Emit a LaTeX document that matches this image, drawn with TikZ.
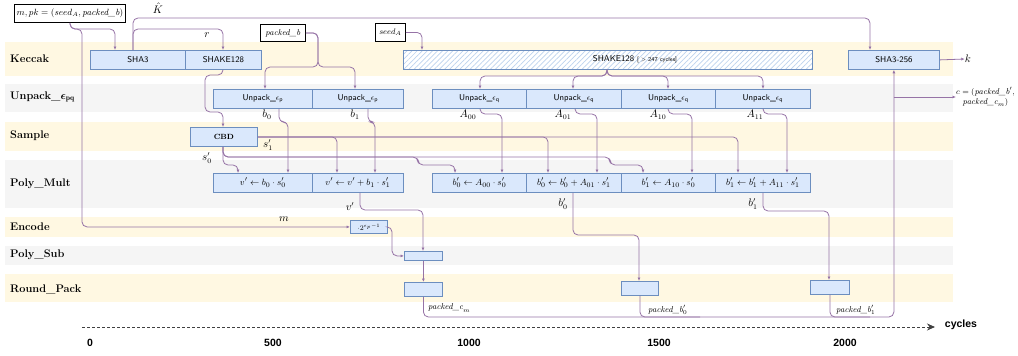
\documentclass[tikz,border=0pt]{standalone}
\usepackage{amsmath}
\usepackage{fontspec}
\newfontfamily\axisfont{Liberation Sans}
\usetikzlibrary{arrows.meta,patterns.meta}
\definecolor{laneY}{HTML}{FFF8E2}
\definecolor{laneG}{HTML}{F5F5F5}
\definecolor{boxF}{HTML}{DAE8FC}
\definecolor{boxD}{HTML}{6C8EBF}
\definecolor{wirec}{HTML}{9673A6}
\definecolor{hatchc}{HTML}{BDD3EE}
\newcommand{\us}{\textunderscore}
\begin{document}
\begin{tikzpicture}[x=1pt,y=-1pt,
  sz/.style 2 args={minimum width=#1pt, minimum height=#2pt},
  lanelabel/.style={anchor=west, inner sep=0, font=\fontsize{11}{13}\selectfont\bfseries},
  blk/.style={draw=boxD, fill=boxF, line width=0.8pt, inner sep=0, anchor=north west,
              font=\sffamily\fontsize{8.5}{10}\selectfont},
  opbox/.style={blk, font=\fontsize{9.5}{11}\selectfont},
  inbox/.style={draw=black, fill=white, line width=0.8pt, inner sep=0, anchor=north west,
                font=\fontsize{9}{10}\selectfont},
  conn/.style={draw=wirec, line width=0.8pt, rounded corners=5pt, -{Latex[length=3.5pt,width=3pt]}},
  wire/.style={draw=wirec, line width=0.8pt, rounded corners=5pt},
  sig/.style={inner sep=0, font=\fontsize{10.5}{12}\selectfont},
  outlbl/.style={inner sep=0, font=\fontsize{8.5}{10}\selectfont},
  tick/.style={inner sep=0, font=\axisfont\bfseries\fontsize{10.5}{12}\selectfont},
]
\useasboundingbox (0,0) rectangle (1018,356);

% swim lanes
\fill[laneY] (5,42)  rectangle (953,76);
\fill[laneG] (5,84)  rectangle (953,112);
\fill[laneY] (5,122) rectangle (953,151);
\fill[laneG] (5,160) rectangle (953,208);
\fill[laneY] (5,217) rectangle (953,237);
\fill[laneG] (5,246) rectangle (953,265);
\fill[laneY] (5,274) rectangle (953,302);

\node[lanelabel] (lkec) at (10,59)  {Keccak};
\node[lanelabel] (lunp) at (10,97)  {Unpack\us$\boldsymbol{\epsilon}_{\mathbf{pq}}$};
\node[lanelabel] (lsam) at (10,136) {Sample};
\node[lanelabel] (lmul) at (10,184) {Poly\us Mult};
\node[lanelabel] (lenc) at (10,227) {Encode};
\node[lanelabel] (lsub) at (10,255) {Poly\us Sub};
\node[lanelabel] (lrp)  at (10,289) {Round\us Pack};

% inputs
\node[inbox, sz={111}{18}] (inp) at (14,4) {$m, pk = (seed_A, \textit{packed\us b})$};
\node[inbox, sz={45}{17}, font=\fontsize{8.5}{10}\selectfont] (pb) at (260,24) {$\textit{packed\us b}$};
\node[inbox, sz={30}{18}, font=\fontsize{8.5}{10}\selectfont] (sa) at (375,23) {$seed_A$};

% Keccak
\node[blk, sz={95}{19}] (sha3) at (90,50) {SHA3};
\node[blk, sz={76}{19}] (shake) at (185,50) {SHAKE128};
\node[blk, sz={409}{19}, fill=none, draw=boxD, line width=1.3pt,
      preaction={fill=white},
      pattern={Lines[angle=45,distance=3.6pt,line width=0.7pt]}, pattern color=hatchc] (shakeA) at (403,50) {};
\node[inner sep=0, font=\sffamily\fontsize{8.5}{10}\selectfont] (shakeAtxt) at (635,59)
  {SHAKE128 {\fontsize{6}{7}\selectfont[ > 247 cycles]}};
\node[blk, sz={91}{19}] (sha256) at (848,50) {SHA3-256};

% Unpack
\node[blk, sz={99}{19}] (up1) at (213,89) {Unpack\us$\epsilon_{\mathsf{p}}$};
\node[blk, sz={91}{19}] (up2) at (312,89) {Unpack\us$\epsilon_{\mathsf{p}}$};
\node[blk, sz={94}{19}] (uq1) at (432,89) {Unpack\us$\epsilon_{\mathsf{q}}$};
\node[blk, sz={95}{19}] (uq2) at (526,89) {Unpack\us$\epsilon_{\mathsf{q}}$};
\node[blk, sz={94}{19}] (uq3) at (621,89) {Unpack\us$\epsilon_{\mathsf{q}}$};
\node[blk, sz={95}{19}] (uq4) at (715,89) {Unpack\us$\epsilon_{\mathsf{q}}$};

% Sample
\node[blk, sz={67}{19}, font=\rmfamily\bfseries\fontsize{7.5}{9}\selectfont] (cbd) at (190,127) {CBD};

% Poly_Mult
\node[opbox, sz={99}{19}] (pm1) at (213,173) {$v' \leftarrow b_0 \cdot s'_0$};
\node[opbox, sz={91}{19}] (pm2) at (312,173) {$v' \leftarrow v' + b_1 \cdot s'_1$};
\node[opbox, sz={94}{19}] (pm3) at (432,173) {$b'_0 \leftarrow A_{00} \cdot s'_0$};
\node[opbox, sz={95}{19}] (pm4) at (526,173) {$b'_0 \leftarrow b'_0 + A_{01} \cdot s'_1$};
\node[opbox, sz={94}{19}] (pm5) at (621,173) {$b'_1 \leftarrow A_{10} \cdot s'_0$};
\node[opbox, sz={95}{19}] (pm6) at (715,173) {$b'_1 \leftarrow b'_1 + A_{11} \cdot s'_1$};

% Encode, Poly_Sub, Round_Pack
\node[opbox, sz={37}{13}, font=\fontsize{7.5}{9}\selectfont] (enc) at (350,220) {$\cdot 2^{\epsilon_p-1}$};
\node[blk, sz={38}{9}]  (sub) at (404,251) {};
\node[blk, sz={38}{14}] (rp1) at (404,282) {};
\node[blk, sz={37}{14}] (rp2) at (621,281) {};
\node[blk, sz={39}{14}] (rp3) at (810,280) {};

% output labels
\node[sig] (kout) at (968,59) {$k$};
\node[outlbl, align=center, anchor=west] (cout) at (956,97)
  {$c = (\textit{packed\us b}'$,\\ $\textit{packed\us c}_m)$};
\coordinate (bus) at (0,317);
\coordinate (cj) at (893.5,97);

% Keccak wiring
\draw[conn] (70,0 |- inp.south) |- (115,29) -- (115,0 |- sha3.north);
\draw[conn] (70,0 |- inp.south) |- (82,29) |- (enc.west);
\draw[conn] (133,0 |- sha3.north) |- (870,18) -- (870,0 |- sha256.north);
\draw[conn] (133,0 |- sha3.north) |- (223,29) -- (223,0 |- shake.north);
\draw[conn] (223,0 |- shake.south) |- (205,75) |- (223,112) -- (223,0 |- cbd.north);
\draw[conn] (pb.east) -| (318,67) -| (265,0 |- up1.north);
\draw[conn] (pb.east) -| (318,67) -| (355,0 |- up2.north);
\draw[conn] (sa.east) -| (422,0 |- shakeA.north);
\draw[conn] (607,0 |- shakeA.south) |- (480,76) -- (480,0 |- uq1.north);
\draw[conn] (607,0 |- shakeA.south) |- (573,76) -- (573,0 |- uq2.north);
\draw[conn] (607,0 |- shakeA.south) |- (668,76) -- (668,0 |- uq3.north);
\draw[conn] (607,0 |- shakeA.south) |- (763,76) -- (763,0 |- uq4.north);

% unpacked operands
\draw[conn] (279,0 |- up1.south) |- (288,122) -- (288,0 |- pm1.north);
\draw[conn] (368,0 |- up2.south) |- (375,122) -- (375,0 |- pm2.north);
\draw[conn] (480,0 |- uq1.south) |- (502,114) -- (502,0 |- pm3.north);
\draw[conn] (575,0 |- uq2.south) |- (597,114) -- (597,0 |- pm4.north);
\draw[conn] (668,0 |- uq3.south) |- (692,114) -- (692,0 |- pm5.north);
\draw[conn] (763,0 |- uq4.south) |- (787,114) -- (787,0 |- pm6.north);

% secrets from CBD
\draw[conn] (cbd.east) -| (337,0 |- pm2.north);
\draw[conn] (cbd.east) -| (548,0 |- pm4.north);
\draw[conn] (cbd.east) -| (738,0 |- pm6.north);
\draw[conn] (223,0 |- cbd.south) |- (238,165) -- (238,0 |- pm1.north);
\draw[conn] (223,0 |- cbd.south) |- (418,157) |- (455,165) -- (455,0 |- pm3.north);
\draw[conn] (223,0 |- cbd.south) |- (610,157) |- (643,165) -- (643,0 |- pm5.north);

% results
\draw[conn] (360,0 |- pm2.south) |- (423,210) -- (423,0 |- sub.north);
\draw[conn] (enc.east) -- (392,0 |- enc.east) |- (sub.west);
\draw[conn] (sub.south) -- (rp1.north);
\draw[conn] (573,0 |- pm4.south) |- (639,235) -- (639,0 |- rp2.north);
\draw[conn] (763,0 |- pm6.south) |- (829,211) -- (829,0 |- rp3.north);
\draw[conn] (rp1.south) -- (rp1.south |- bus) -| (sha256.south);
\draw[wire] (rp2.south) |- (700,317);
\draw[wire] (rp3.south) |- (870,317);
\draw[conn] (cj) -- (cout.west);
\draw[conn] (sha256.east) -- (kout.west);

% signal labels
\node[sig] (lK)   at (158,8)   {$\hat{K}$};
\node[sig] (lr)   at (207,35)  {$r$};
\node[sig] (lb0)  at (267,115) {$b_0$};
\node[sig] (lb1)  at (355,115) {$b_1$};
\node[sig] (lA00) at (468,115) {$A_{00}$};
\node[sig] (lA01) at (563,115) {$A_{01}$};
\node[sig] (lA10) at (658,115) {$A_{10}$};
\node[sig] (lA11) at (755,115) {$A_{11}$};
\node[sig] (ls1)  at (268,145) {$s'_1$};
\node[sig] (ls0)  at (207,158) {$s'_0$};
\node[sig] (lm)   at (284,219) {$m$};
\node[sig] (lv)   at (350,207) {$v'$};
\node[sig] (lbp0) at (563,204) {$b'_0$};
\node[sig] (lbp1) at (753,204) {$b'_1$};
\node[outlbl, anchor=west] (lpc)  at (428,308) {$\textit{packed\us c}_m$};
\node[outlbl, anchor=west] (lpb0) at (648,310) {$\textit{packed\us b}'_0$};
\node[outlbl, anchor=west] (lpb1) at (836,310) {$\textit{packed\us b}'_1$};

% time axis
\coordinate (ax0) at (82,327);
\coordinate (ax1) at (935,327);
\draw[black!75, line width=0.9pt, dash pattern=on 3pt off 2pt, -{Stealth[length=8pt,width=7pt]}] (ax0) -- (ax1);
\node[tick] (cyc) at (961,325) {cycles};
\node[tick] (t0)  at (90,343)  {0};
\node[tick] (t1)  at (273,343) {500};
\node[tick] (t2)  at (469,343) {1000};
\node[tick] (t3)  at (659,343) {1500};
\node[tick] (t4)  at (845,343) {2000};
\end{tikzpicture}
\end{document}
